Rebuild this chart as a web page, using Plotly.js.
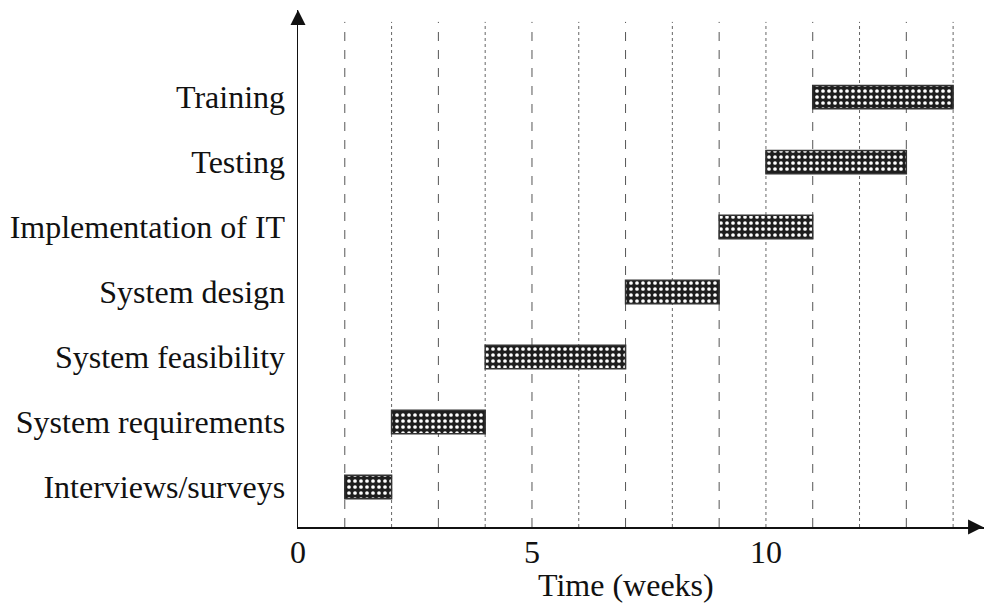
<!DOCTYPE html>
<html>
<head>
<meta charset="utf-8">
<script src="https://cdn.plot.ly/plotly-3.0.1.min.js"></script>
<style>html,body{margin:0;padding:0;background:#fff;}#chart{width:984px;height:608px;}</style>
</head>
<body>
<div id="chart"></div>
<script>
const tasks = ["Interviews/surveys", "System requirements", "System feasibility", "System design", "Implementation of IT", "Testing", "Training"];
const startWeek = [1, 2, 4, 7, 9, 10, 11];
const endWeek = [2, 4, 7, 9, 11, 13, 14];
const dashedWeeks = [1, 3, 5, 7, 9, 11, 13];
const dottedWeeks = [2, 4, 6, 8, 10, 12, 14];
const xTicks = [0, 5, 10];

const durations = endWeek.map((e, i) => e - startWeek[i]);
const FONT = "Liberation Serif, Times New Roman, serif";

const trace = {
  type: "bar",
  orientation: "h",
  y: tasks,
  x: durations,
  base: startWeek,
  width: 0.36,
  marker: {
    color: "#1e1e1e",
    line: {color: "#333", width: 1.5},
    pattern: {shape: ".", fgcolor: "#ffffff", bgcolor: "#1e1e1e", size: 6, solidity: 0.3}
  },
  hoverinfo: "skip"
};

const shapes = [];
dashedWeeks.forEach(w => shapes.push({type: "line", xref: "x", yref: "paper", x0: w, x1: w, y0: 0, y1: 0.977, layer: "below", line: {color: "#555", width: 1, dash: "dash"}}));
dottedWeeks.forEach(w => shapes.push({type: "line", xref: "x", yref: "paper", x0: w, x1: w, y0: 0, y1: 0.977, layer: "below", line: {color: "#666", width: 1, dash: "dot"}}));

const layout = {
  width: 984, height: 608,
  margin: {l: 298, r: 0, t: 10, b: 81},
  paper_bgcolor: "#fff", plot_bgcolor: "#fff",
  showlegend: false,
  font: {family: FONT, size: 32, color: "#111"},
  xaxis: {
    range: [0, 14.66], showgrid: false, zeroline: false,
    showline: true, linecolor: "#111", linewidth: 1.5,
    tickvals: xTicks, ticktext: xTicks.map(String),
    ticks: "", ticklabelstandoff: -4,
    tickfont: {family: FONT, size: 32, color: "#111"}
  },
  yaxis: {
    type: "category", range: [-0.615, 7.34], showgrid: false, zeroline: false,
    showline: true, linecolor: "#111", linewidth: 1.5,
    ticks: "outside", ticklen: 5, tickcolor: "rgba(0,0,0,0)",
    tickfont: {family: FONT, size: 32, color: "#111"}
  },
  shapes: shapes,
  annotations: [
    {x: 0, y: 1.0, xref: "x", yref: "paper", showarrow: true, ax: 0, ay: 16, axref: "pixel", ayref: "pixel",
     arrowhead: 2, arrowsize: 2, arrowwidth: 1.5, arrowcolor: "#111", text: ""},
    {x: 14.64, y: 0, xref: "x", yref: "paper", showarrow: true, ax: -16, ay: 0,
     arrowhead: 2, arrowsize: 2, arrowwidth: 1.5, arrowcolor: "#111", text: ""},
    {x: 7.01, y: -0.112, xref: "x", yref: "paper", showarrow: false, text: "Time (weeks)",
     xanchor: "center", yanchor: "middle", font: {family: FONT, size: 32, color: "#111"}}
  ]
};

Plotly.newPlot("chart", [trace], layout, {displayModeBar: false, staticPlot: true});
</script>
</body>
</html>
